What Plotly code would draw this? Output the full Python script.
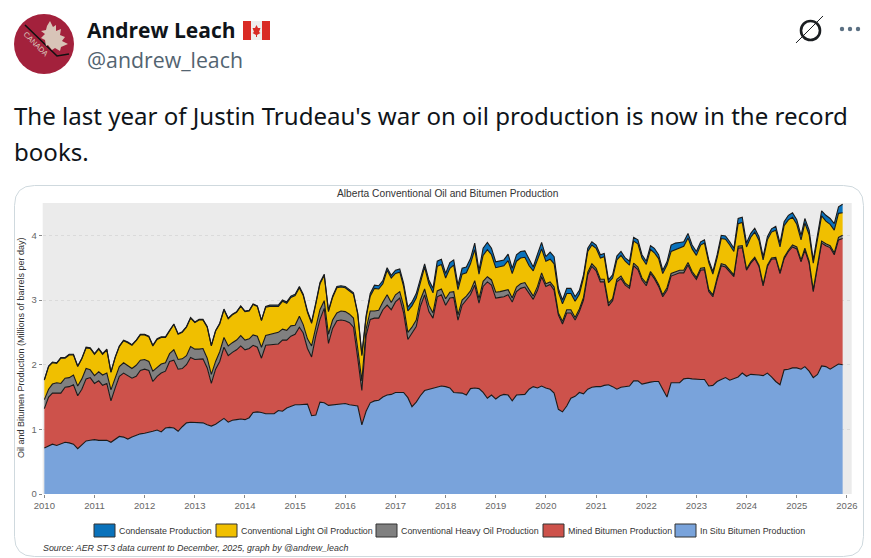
import numpy as np
import pandas as pd
import plotly.graph_objects as go

W = 871
H = 558

# monthly values Jan 2010 - Dec 2025, in millions of barrels per day
# the bands are stacked, each list is the top edge of its band
in_situ = [
    .71, .74, .77, .75, .77, .80, .79, .77, .70, .76, .82, .83,
    .84, .83, .83, .83, .80, .84, .89, .88, .85, .88, .91, .93,
    .94, .95, .97, .99, .96, 1.02, 1.03, 1.02, .97, 1.04, 1.10, 1.11,
    1.11, 1.11, 1.10, 1.07, 1.05, 1.08, 1.13, 1.17, 1.11, 1.14, 1.15, 1.16,
    1.15, 1.18, 1.26, 1.27, 1.26, 1.24, 1.24, 1.24, 1.29, 1.28, 1.33, 1.36,
    1.38, 1.38, 1.39, 1.39, 1.21, 1.22, 1.42, 1.41, 1.37, 1.38, 1.39, 1.40,
    1.40, 1.38, 1.37, 1.36, 1.07, 1.28, 1.41, 1.44, 1.45, 1.50, 1.53, 1.54,
    1.57, 1.57, 1.57, 1.49, 1.35, 1.42, 1.52, 1.60, 1.62, 1.63, 1.66, 1.67,
    1.66, 1.64, 1.57, 1.57, 1.56, 1.53, 1.63, 1.64, 1.63, 1.57, 1.48, 1.53,
    1.47, 1.52, 1.54, 1.53, 1.44, 1.53, 1.53, 1.54, 1.62, 1.66, 1.64, 1.67,
    1.64, 1.62, 1.56, 1.31, 1.27, 1.36, 1.48, 1.51, 1.57, 1.55, 1.62, 1.65,
    1.66, 1.66, 1.68, 1.69, 1.66, 1.62, 1.65, 1.66, 1.67, 1.75, 1.75, 1.70,
    1.72, 1.73, 1.74, 1.74, 1.62, 1.50, 1.72, 1.72, 1.72, 1.78, 1.79, 1.78,
    1.77, 1.77, 1.77, 1.67, 1.68, 1.74, 1.77, 1.80, 1.76, 1.78, 1.81, 1.87,
    1.82, 1.85, 1.85, 1.84, 1.83, 1.87, 1.81, 1.74, 1.69, 1.92, 1.93, 1.95,
    1.95, 1.93, 1.97, 1.90, 1.80, 1.85, 1.98, 1.97, 1.93, 1.97, 2.01, 2.00,
]
mined_top = [
    1.32, 1.50, 1.56, 1.56, 1.56, 1.65, 1.66, 1.69, 1.52, 1.62, 1.78, 1.80,
    1.71, 1.75, 1.68, 1.71, 1.44, 1.64, 1.82, 1.87, 1.83, 1.79, 1.82, 1.91,
    1.93, 1.91, 1.74, 1.82, 1.87, 1.90, 2.05, 2.07, 1.93, 1.94, 2.00, 2.11,
    2.08, 2.09, 2.09, 1.95, 1.71, 1.93, 2.05, 2.27, 2.14, 2.19, 2.23, 2.29,
    2.23, 2.25, 2.30, 2.27, 2.10, 2.30, 2.31, 2.31, 2.32, 2.38, 2.38, 2.44,
    2.47, 2.58, 2.49, 2.25, 2.12, 2.45, 2.70, 2.87, 2.33, 2.56, 2.68, 2.69,
    2.68, 2.65, 2.58, 2.10, 1.60, 2.45, 2.70, 2.72, 2.72, 2.85, 2.92, 2.85,
    2.97, 3.03, 2.80, 2.39, 2.48, 2.59, 2.90, 3.08, 2.82, 2.72, 3.05, 3.08,
    2.92, 3.03, 3.04, 2.69, 2.92, 3.00, 3.08, 3.23, 2.95, 3.21, 3.28, 3.23,
    3.03, 3.04, 3.05, 3.08, 2.97, 3.13, 3.18, 3.20, 3.10, 3.01, 3.15, 3.36,
    3.21, 3.24, 3.15, 2.77, 2.63, 2.80, 2.80, 2.69, 2.82, 3.00, 3.39, 3.52,
    3.45, 3.28, 3.28, 2.91, 2.99, 3.28, 3.33, 3.23, 3.18, 3.53, 3.47, 3.31,
    3.22, 3.41, 3.33, 3.21, 3.05, 3.15, 3.37, 3.40, 3.42, 3.42, 3.54, 3.41,
    3.32, 3.46, 3.47, 3.13, 3.05, 3.31, 3.53, 3.51, 3.44, 3.36, 3.80, 3.81,
    3.46, 3.57, 3.64, 3.52, 3.22, 3.52, 3.63, 3.64, 3.41, 3.64, 3.75, 3.82,
    3.79, 3.59, 3.77, 3.57, 3.13, 3.54, 3.88, 3.84, 3.81, 3.70, 3.93, 3.95,
]
heavy_top = [
    1.46, 1.62, 1.70, 1.72, 1.71, 1.79, 1.80, 1.84, 1.67, 1.78, 1.94, 1.92,
    1.83, 1.89, 1.84, 1.87, 1.61, 1.80, 1.97, 2.03, 1.98, 1.94, 1.99, 2.07,
    2.08, 2.05, 1.90, 1.96, 2.01, 2.03, 2.17, 2.23, 2.08, 2.09, 2.14, 2.28,
    2.24, 2.24, 2.25, 2.10, 1.85, 2.05, 2.20, 2.42, 2.29, 2.34, 2.38, 2.45,
    2.38, 2.40, 2.46, 2.44, 2.27, 2.45, 2.47, 2.48, 2.50, 2.55, 2.53, 2.60,
    2.61, 2.75, 2.62, 2.40, 2.29, 2.58, 2.85, 2.99, 2.47, 2.69, 2.80, 2.83,
    2.82, 2.78, 2.72, 2.25, 1.75, 2.55, 2.83, 2.83, 2.84, 2.97, 3.08, 2.96,
    3.08, 3.13, 2.91, 2.50, 2.58, 2.69, 3.00, 3.17, 2.92, 2.80, 3.14, 3.17,
    3.02, 3.12, 3.13, 2.77, 3.00, 3.06, 3.14, 3.30, 3.02, 3.29, 3.36, 3.31,
    3.12, 3.13, 3.14, 3.16, 3.03, 3.20, 3.25, 3.27, 3.16, 3.06, 3.21, 3.42,
    3.25, 3.28, 3.20, 2.80, 2.67, 2.85, 2.85, 2.73, 2.86, 3.04, 3.43, 3.56,
    3.49, 3.32, 3.32, 2.95, 3.02, 3.32, 3.37, 3.26, 3.21, 3.57, 3.51, 3.34,
    3.26, 3.44, 3.36, 3.24, 3.08, 3.19, 3.41, 3.44, 3.46, 3.46, 3.58, 3.44,
    3.35, 3.49, 3.50, 3.16, 3.08, 3.34, 3.56, 3.54, 3.47, 3.39, 3.83, 3.84,
    3.48, 3.59, 3.66, 3.54, 3.24, 3.54, 3.65, 3.66, 3.43, 3.66, 3.77, 3.85,
    3.82, 3.62, 3.80, 3.60, 3.16, 3.57, 3.91, 3.87, 3.84, 3.73, 3.97, 4.00,
]
light_top = [
    1.76, 1.97, 2.03, 2.02, 2.10, 2.10, 2.15, 2.15, 1.97, 2.09, 2.26, 2.25,
    2.16, 2.24, 2.16, 2.23, 1.88, 2.11, 2.28, 2.37, 2.34, 2.30, 2.37, 2.46,
    2.46, 2.43, 2.29, 2.39, 2.42, 2.42, 2.52, 2.62, 2.47, 2.50, 2.58, 2.72,
    2.65, 2.69, 2.69, 2.58, 2.29, 2.52, 2.63, 2.85, 2.71, 2.77, 2.81, 2.90,
    2.82, 2.83, 2.93, 2.90, 2.68, 2.89, 2.90, 2.90, 2.90, 2.98, 2.95, 3.04,
    3.07, 3.19, 3.07, 2.81, 2.64, 2.94, 3.25, 3.38, 2.82, 3.04, 3.19, 3.20,
    3.19, 3.14, 3.09, 2.78, 2.14, 2.73, 3.06, 3.18, 3.17, 3.25, 3.46, 3.34,
    3.41, 3.43, 3.21, 2.83, 2.91, 3.03, 3.27, 3.51, 3.25, 3.11, 3.52, 3.55,
    3.34, 3.49, 3.54, 3.16, 3.40, 3.42, 3.56, 3.78, 3.40, 3.69, 3.78, 3.70,
    3.50, 3.51, 3.53, 3.61, 3.41, 3.60, 3.65, 3.66, 3.53, 3.45, 3.62, 3.79,
    3.60, 3.63, 3.56, 3.12, 2.94, 3.10, 3.10, 2.98, 3.09, 3.34, 3.75, 3.85,
    3.80, 3.65, 3.67, 3.27, 3.34, 3.62, 3.69, 3.60, 3.54, 3.91, 3.87, 3.65,
    3.55, 3.78, 3.73, 3.64, 3.41, 3.54, 3.75, 3.78, 3.80, 3.83, 3.96, 3.79,
    3.69, 3.85, 3.88, 3.58, 3.40, 3.65, 3.95, 3.94, 3.85, 3.75, 4.18, 4.20,
    3.82, 3.97, 4.05, 3.92, 3.62, 3.93, 4.05, 4.08, 3.82, 4.15, 4.24, 4.28,
    4.17, 3.93, 4.19, 4.01, 3.57, 3.96, 4.30, 4.22, 4.17, 4.08, 4.34, 4.35,
]
condensate_top = [
    1.77, 1.98, 2.04, 2.03, 2.11, 2.11, 2.16, 2.16, 1.98, 2.10, 2.27, 2.26,
    2.17, 2.25, 2.17, 2.24, 1.89, 2.12, 2.29, 2.38, 2.35, 2.31, 2.38, 2.47,
    2.47, 2.44, 2.30, 2.40, 2.43, 2.43, 2.53, 2.63, 2.48, 2.51, 2.59, 2.73,
    2.66, 2.70, 2.70, 2.59, 2.30, 2.53, 2.64, 2.86, 2.72, 2.78, 2.82, 2.91,
    2.83, 2.84, 2.94, 2.91, 2.69, 2.90, 2.92, 2.92, 2.92, 3.00, 2.97, 3.06,
    3.09, 3.21, 3.09, 2.83, 2.66, 2.96, 3.27, 3.40, 2.84, 3.06, 3.21, 3.22,
    3.21, 3.16, 3.11, 2.80, 2.16, 2.76, 3.10, 3.23, 3.22, 3.30, 3.50, 3.38,
    3.46, 3.48, 3.26, 2.89, 2.97, 3.10, 3.33, 3.56, 3.31, 3.18, 3.60, 3.63,
    3.41, 3.58, 3.62, 3.23, 3.49, 3.51, 3.64, 3.88, 3.46, 3.80, 3.89, 3.80,
    3.59, 3.60, 3.62, 3.71, 3.49, 3.70, 3.75, 3.76, 3.62, 3.51, 3.71, 3.89,
    3.67, 3.74, 3.67, 3.18, 3.00, 3.18, 3.18, 3.05, 3.15, 3.39, 3.80, 3.90,
    3.85, 3.70, 3.72, 3.31, 3.39, 3.68, 3.75, 3.65, 3.60, 3.97, 3.93, 3.70,
    3.60, 3.84, 3.80, 3.70, 3.46, 3.59, 3.85, 3.88, 3.89, 3.90, 4.03, 3.85,
    3.75, 3.90, 3.93, 3.62, 3.44, 3.70, 4.00, 3.99, 3.90, 3.80, 4.26, 4.28,
    3.88, 4.03, 4.11, 3.98, 3.67, 3.98, 4.10, 4.14, 3.88, 4.21, 4.31, 4.35,
    4.24, 4.00, 4.26, 4.08, 3.62, 4.03, 4.38, 4.31, 4.26, 4.18, 4.44, 4.48,
]

names = ["Condensate Production", "Conventional Light Oil Production",
         "Conventional Heavy Oil Production", "Mined Bitumen Production",
         "In Situ Bitumen Production"]
colors = ["#0a72bb", "#f0bf00", "#808080", "#cd524b", "#79a3db"]
tops = [condensate_top, light_top, heavy_top, mined_top, in_situ]
year_ticks = [str(y) for y in range(2010, 2027)]

months = pd.date_range("2010-01-01", periods=len(in_situ), freq="MS")


def X(px):
    return px / W


def Y(py):
    return 1 - py / H


def label(px, py, text, size, color="#333333", family="Liberation Sans", anchor="left", angle=0):
    fig.add_annotation(x=X(px), y=Y(py), xref="paper", yref="paper", text=text, showarrow=False,
                       xanchor=anchor, yanchor="middle", textangle=angle, borderpad=0, borderwidth=0,
                       font=dict(size=size, color=color, family=family))


def box(x0, y0, x1, y1, fill, line="rgba(0,0,0,0)", width=0):
    fig.add_shape(type="rect", xref="paper", yref="paper", x0=X(x0), x1=X(x1), y0=Y(y0), y1=Y(y1),
                  fillcolor=fill, line=dict(color=line, width=width))


def path(points, fill=None, line="rgba(0,0,0,0)", width=0, closed=True):
    d = "M " + " L ".join(f"{X(a):.5f},{Y(b):.5f}" for a, b in points) + (" Z" if closed else "")
    fig.add_shape(type="path", xref="paper", yref="paper", path=d,
                  fillcolor=fill if fill else "rgba(0,0,0,0)", line=dict(color=line, width=width))


fig = go.Figure()

# drawn bottom up so each band fills down to the one before it
for i in range(len(names) - 1, -1, -1):
    fig.add_trace(go.Scatter(x=months, y=tops[i], name=names[i], mode="lines",
                             line=dict(color="#1a1a1a", width=1.1),
                             fill="tozeroy" if i == len(names) - 1 else "tonexty",
                             fillcolor=colors[i], showlegend=False))

fig.update_layout(
    width=W, height=H, autosize=False, margin=dict(l=0, r=0, t=0, b=0),
    paper_bgcolor="white", plot_bgcolor="#ebebeb", showlegend=False,
    xaxis=dict(domain=[X(42.7), X(851.7)], type="date", automargin=False,
               range=["2009-12-20", "2026-02-05"], tickvals=[f"{y}-01-01" for y in year_ticks],
               ticktext=year_ticks, ticks="outside", ticklen=3, tickcolor="#888888", showgrid=False,
               zeroline=False, showline=False, tickfont=dict(size=9.5, color="#666666", family="Liberation Sans")),
    yaxis=dict(domain=[Y(494), Y(203)], range=[0, 4.5], automargin=False, tickvals=[0, 1, 2, 3, 4], ticks="outside",
               ticklen=3, tickcolor="#888888", gridcolor="#dadada", griddash="dot", gridwidth=1, zeroline=False,
               tickfont=dict(size=9.5, color="#666666", family="Liberation Sans")),
)

# card round the chart
r = 20
fig.add_shape(type="path", xref="paper", yref="paper", line=dict(color="#cfd9de", width=1),
              path=(f"M {X(14.5 + r)},{Y(185.5)} L {X(863.5 - r)},{Y(185.5)} Q {X(863.5)},{Y(185.5)} {X(863.5)},{Y(185.5 + r)} "
                    f"L {X(863.5)},{Y(556.5 - r)} Q {X(863.5)},{Y(556.5)} {X(863.5 - r)},{Y(556.5)} "
                    f"L {X(14.5 + r)},{Y(556.5)} Q {X(14.5)},{Y(556.5)} {X(14.5)},{Y(556.5 - r)} "
                    f"L {X(14.5)},{Y(185.5 + r)} Q {X(14.5)},{Y(185.5)} {X(14.5 + r)},{Y(185.5)} Z"))

# chart texts
label(447.5, 193, "Alberta Conventional Oil and Bitumen Production", 10.2, anchor="center")
label(21, 348, "Oil and Bitumen Production (Millions of barrels per day)", 9, anchor="center", angle=-90)
label(43, 548, "<i>Source: AER ST-3 data current to December, 2025, graph by @andrew_leach</i>", 8.9)

# legend
legend_x = [94, 216, 376, 543, 675]
for name, col, lx in zip(names, colors, legend_x):
    box(lx, 524, lx + 21, 537, col, line="#333333", width=1)
    label(lx + 25, 531, name, 8.9)

# tweet header and text
label(87, 30, "<b>Andrew Leach</b>", 21, color="#0f1419", family="Open Sans")
label(87, 59.5, "@andrew_leach", 21.3, color="#536471", family="Open Sans")
label(14, 115, "The last year of Justin Trudeau's war on oil production is now in the record", 24.05, color="#0f1419", family="Noto Sans")
label(14, 151, "books.", 24.05, color="#0f1419", family="Noto Sans")

# avatar
fig.add_shape(type="circle", xref="paper", yref="paper", x0=X(14), x1=X(74), y0=Y(14), y1=Y(74),
              fillcolor="#a3213c", line=dict(width=0))
path([(25, 25), (57, 56), (69, 54)], line="#111111", width=1.6, closed=False)
leaf = [(50, 21), (53, 27), (56, 25), (56, 31), (61, 29), (60, 35), (65, 37), (62, 41), (68, 44), (61, 47), (60, 51),
        (55, 48), (52, 50), (48, 45), (46, 46), (45, 40), (41, 38), (45, 34), (41, 31), (46, 30), (47, 26)]
path(leaf, fill="#d8c4b8")
label(35, 44, "CANADA", 7.5, color="#d8c4b8", anchor="center", angle=45)

# flag
box(243, 21, 270, 40, "#eeeeee")
box(243, 21, 251, 40, "#d92b25")
box(262, 21, 270, 40, "#d92b25")
path([(256.5, 25), (258, 28), (260.5, 28), (259, 32), (260.5, 33), (257, 35), (257, 37), (256, 37), (256, 35),
      (252.5, 33), (254, 32), (252.5, 28), (255, 28)], fill="#d92b25")

# cancelled logo and dots
fig.add_shape(type="circle", xref="paper", yref="paper", x0=X(801), x1=X(820), y0=Y(21), y1=Y(40),
              line=dict(color="#1a1d21", width=2.6))
path([(796, 43), (823, 16)], line="#1a1d21", width=1, closed=False)
for cx in [842, 850, 858]:
    fig.add_shape(type="circle", xref="paper", yref="paper", x0=X(cx - 2.2), x1=X(cx + 2.2), y0=Y(26.8), y1=Y(31.2),
                  fillcolor="#5b7083", line=dict(width=0))

fig.write_html("out.html", config={"displayModeBar": False}, post_script="document.body.style.margin='0';")
